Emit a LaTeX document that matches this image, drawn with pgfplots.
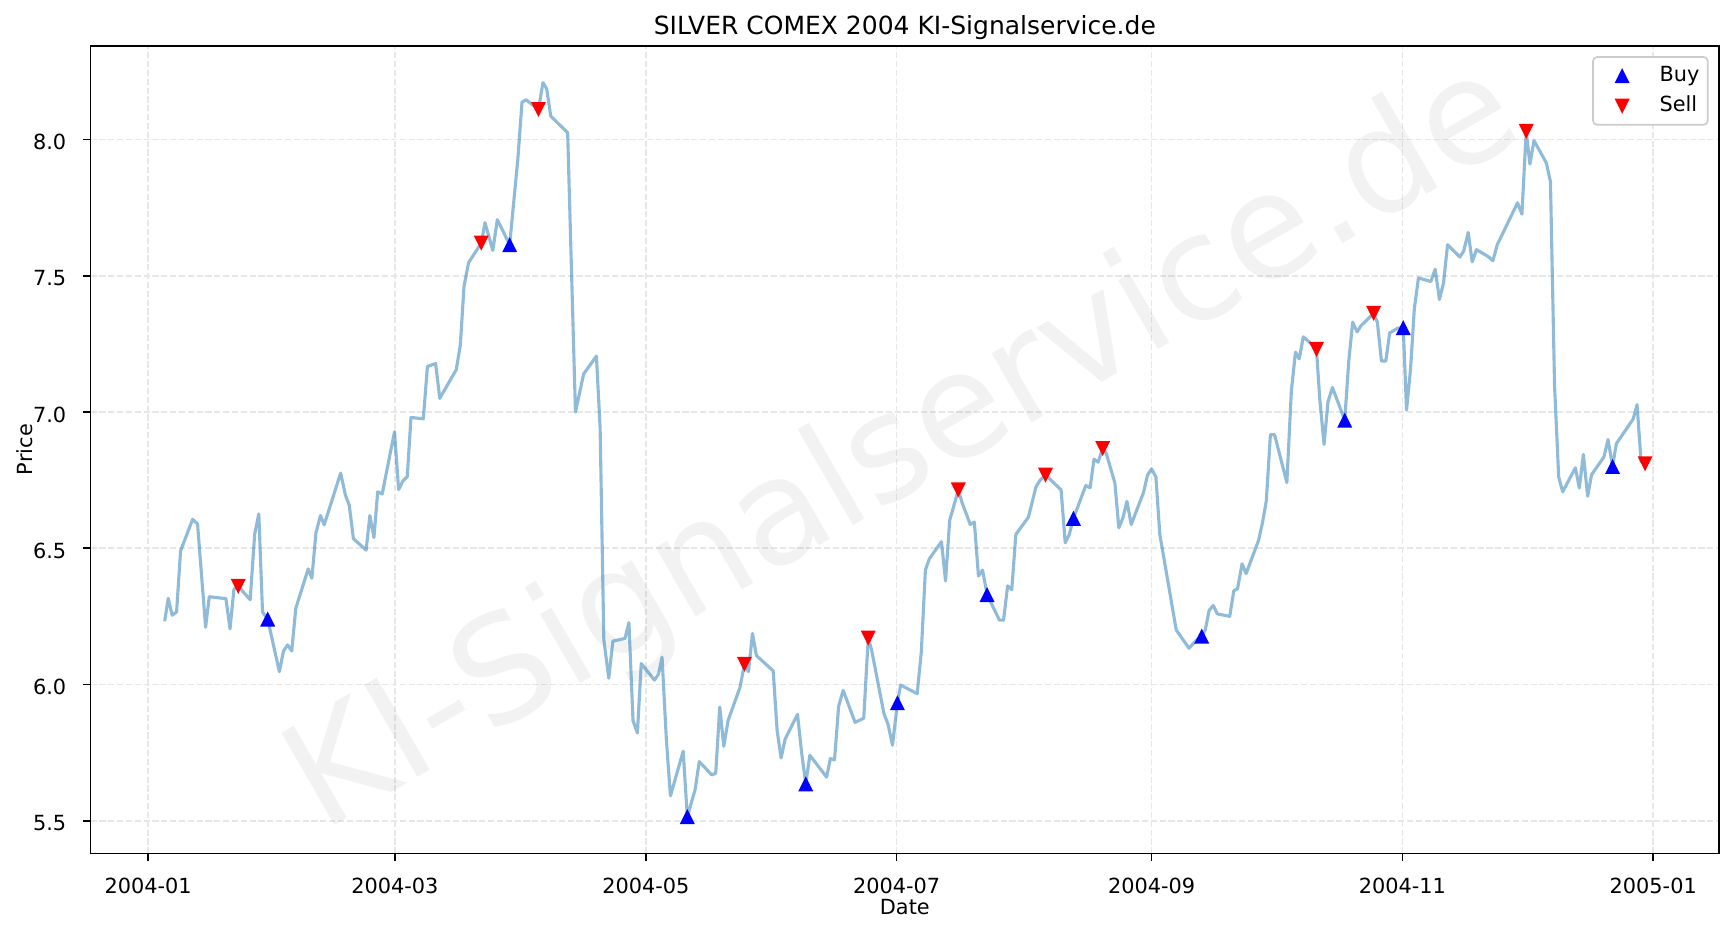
\documentclass[border=0pt]{standalone}
\usepackage{fontspec}
\setmainfont{DejaVu Sans}
\usepackage{pgfplots}
\usepackage{pgfplotstable}
\pgfplotsset{compat=1.18}
\definecolor{lineblue}{RGB}{31,119,180}
\definecolor{gridgray}{RGB}{231,231,231}
\definecolor{legedge}{RGB}{204,204,204}
\pgfdeclareplotmark{tup}{%
  \pgfpathmoveto{\pgfqpoint{0pt}{\pgfplotmarksize}}%
  \pgfpathlineto{\pgfqpoint{-\pgfplotmarksize}{-\pgfplotmarksize}}%
  \pgfpathlineto{\pgfqpoint{\pgfplotmarksize}{-\pgfplotmarksize}}%
  \pgfpathclose\pgfusepathqfill}
\pgfdeclareplotmark{tdown}{%
  \pgfpathmoveto{\pgfqpoint{0pt}{-\pgfplotmarksize}}%
  \pgfpathlineto{\pgfqpoint{-\pgfplotmarksize}{\pgfplotmarksize}}%
  \pgfpathlineto{\pgfqpoint{\pgfplotmarksize}{\pgfplotmarksize}}%
  \pgfpathclose\pgfusepathqfill}
\pgfplotstableread{
day price
4.0 6.232
4.87 6.316
5.84 6.254
6.9 6.266
7.87 6.49
10.8 6.606
12.0 6.589
13.96 6.21
14.85 6.322
18.9 6.315
19.9 6.204
20.85 6.35
21.9 6.36
24.8 6.311
25.9 6.552
26.9 6.626
27.8 6.266
29.05 6.24
31.9 6.047
32.9 6.123
33.9 6.145
34.9 6.123
35.9 6.28
38.9 6.424
39.8 6.39
40.8 6.557
41.9 6.62
42.8 6.586
46.8 6.776
47.96 6.695
48.9 6.657
49.9 6.535
53.0 6.493
53.9 6.62
54.9 6.539
55.8 6.707
56.9 6.699
59.9 6.928
60.9 6.715
61.9 6.746
63.0 6.763
63.9 6.98
66.9 6.975
67.9 7.167
69.9 7.178
70.9 7.05
74.9 7.155
75.9 7.245
76.8 7.461
77.9 7.548
81.0 7.62
81.9 7.695
83.8 7.593
84.9 7.706
87.9 7.614
89.9 7.93
90.9 8.137
91.9 8.146
94.9 8.11
96.0 8.209
96.9 8.186
97.9 8.086
102.0 8.025
103.9 7.0
105.9 7.14
109.0 7.205
109.9 6.94
110.8 6.164
112.0 6.023
113.0 6.159
115.95 6.169
116.9 6.227
117.9 5.867
118.96 5.822
119.9 6.077
123.1 6.016
124.1 6.038
124.96 6.1
126.0 5.80
126.99 5.591
130.1 5.755
131.1 5.515
133.0 5.614
134.0 5.717
137.05 5.668
138.0 5.674
139.0 5.917
139.97 5.773
141.0 5.867
143.9 5.989
145.0 6.074
145.98 6.047
146.95 6.187
147.9 6.106
151.98 6.05
152.95 5.83
153.9 5.73
154.9 5.80
157.9 5.89
158.9 5.75
159.9 5.635
160.9 5.74
164.97 5.66
165.9 5.728
166.9 5.723
167.9 5.92
169.0 5.978
171.9 5.861
174.0 5.876
175.1 6.17
175.9 6.128
178.9 5.894
179.9 5.854
181.0 5.777
182.2 5.933
182.98 5.998
187.0 5.966
188.0 6.119
189.0 6.42
189.95 6.461
192.9 6.524
193.9 6.38
194.9 6.602
197.0 6.714
197.9 6.668
199.9 6.587
200.9 6.596
201.9 6.398
202.9 6.42
204.0 6.33
207.0 6.236
208.0 6.236
209.0 6.362
210.0 6.348
211.0 6.551
214.05 6.614
215.9 6.726
216.9 6.75
218.2 6.768
219.2 6.755
222.0 6.714
223.0 6.52
224.0 6.551
225.0 6.61
228.0 6.73
229.06 6.722
230.0 6.827
231.0 6.816
232.1 6.866
232.96 6.849
235.07 6.74
236.04 6.575
237.0 6.61
238.0 6.672
239.05 6.587
242.05 6.705
243.0 6.768
244.0 6.791
245.05 6.762
246.0 6.551
250.0 6.2
253.1 6.133
255.0 6.164
256.2 6.177
257.06 6.2
258.0 6.272
259.0 6.29
260.0 6.259
263.0 6.25
264.0 6.344
264.9 6.351
266.0 6.443
267.0 6.407
270.0 6.528
271.0 6.596
271.9 6.674
272.9 6.917
273.9 6.917
276.9 6.741
278.0 7.079
279.0 7.22
279.9 7.195
280.9 7.276
282.9 7.249
284.1 7.23
284.9 7.047
285.95 6.881
286.9 7.038
287.98 7.09
290.97 6.97
291.95 7.186
292.9 7.33
293.98 7.294
294.95 7.317
298.0 7.362
298.9 7.33
299.9 7.187
300.96 7.187
301.9 7.29
303.9 7.308
305.2 7.31
306.0 7.007
306.96 7.155
307.9 7.38
308.9 7.492
311.9 7.479
312.97 7.524
314.0 7.413
315.0 7.474
315.97 7.614
318.97 7.569
319.9 7.591
321.0 7.659
321.97 7.551
323.0 7.596
326.0 7.569
327.0 7.555
328.06 7.614
333.0 7.768
334.06 7.726
335.1 8.03
336.0 7.91
337.0 7.996
340.0 7.914
341.0 7.845
342.0 7.094
343.0 6.762
343.97 6.707
347.05 6.795
348.02 6.721
349.0 6.844
350.05 6.691
351.0 6.77
354.0 6.835
355.0 6.899
356.1 6.80
357.03 6.884
361.1 6.974
362.06 7.027
363.03 6.819
364.0 6.81
}\pricetable
\pgfplotstableread{
day price
29.05 6.24
87.9 7.614
131.1 5.515
159.9 5.635
182.2 5.933
204.0 6.33
225.0 6.61
256.2 6.177
290.97 6.97
305.2 7.31
356.1 6.80
}\buytable
\pgfplotstableread{
day price
21.9 6.36
81.0 7.62
94.9 8.11
145.0 6.074
175.1 6.17
197.0 6.714
218.2 6.768
232.1 6.866
284.1 7.23
298.0 7.362
335.1 8.03
364.0 6.81
}\selltable
\begin{document}
\begin{tikzpicture}
\useasboundingbox (-43.5pt,-37.8pt) rectangle (788.3pt,409.6pt);
\begin{axis}[
  at={(0pt,0pt)}, anchor=south west,
  scale only axis, width=781.6pt, height=387.6pt,
  xmin=-14, xmax=382, ymin=5.380, ymax=8.344,
  axis line style={line width=0.8pt, black},
  tick pos=left, tick align=outside, major tick length=3.5pt,
  every tick/.style={black, line width=0.8pt},
  xtick={0,60,121,182,244,305,366},
  xticklabels={2004-01,2004-03,2004-05,2004-07,2004-09,2004-11,2005-01},
  ytick={5.5,6,6.5,7,7.5,8},
  yticklabels={5.5,6.0,6.5,7.0,7.5,8.0},
  grid=major,
  major grid style={gridgray, line width=0.8pt, dash pattern=on 2.96pt off 1.28pt},
  xticklabel style={font=\fontsize{10}{12}\selectfont, anchor=north, inner sep=0pt, yshift=-8.35pt},
  yticklabel style={font=\fontsize{10}{12}\selectfont, anchor=east, inner sep=0pt, xshift=-8pt, yshift=-1.25pt},
  title={SILVER COMEX 2004 KI-Signalservice.de},
  title style={at={(axis description cs:0.5,1.0141)}, anchor=base, yshift=-6pt, inner sep=0pt, font=\fontsize{12}{14}\selectfont},
  xlabel={Date},
  xlabel style={at={(axis description cs:0.5,-0.0751)}, anchor=base, inner sep=0pt, font=\fontsize{10}{12}\selectfont},
  ylabel={Price},
  ylabel style={at={(axis description cs:-0.0356,0.5)}, anchor=base, inner sep=0pt, font=\fontsize{10}{12}\selectfont},
  legend style={at={(rel axis cs:1,1)}, anchor=north east, xshift=-5pt, yshift=-5pt,
    draw=legedge, line width=0.8pt, fill=white, rounded corners=2pt, inner sep=4pt,
    row sep=4.9pt, column sep=8pt, font=\fontsize{10}{12}\selectfont,
    nodes={inner sep=0pt, text height=7.5pt, text depth=2.3pt}},
  legend cell align=left,
  legend image code/.code={\path[draw=none, fill=none] (0pt,-3.6pt) rectangle (20pt,3.6pt);
    \draw[#1,sharp corners,mark repeat=2,mark phase=2] plot coordinates {(0pt,0pt)(10pt,0pt)(20pt,0pt)};},
]
\node[rotate=30, text=gray, text opacity=0.1, font=\fontsize{70}{84}\selectfont, inner sep=0pt]
  at (rel axis cs:0.5,0.5) {KI-Signalservice.de};
\addplot[only marks, mark=tup, mark size=3.6pt, color=blue, mark options={fill=blue, sharp corners}] table[x=day, y=price] {\buytable};
\addlegendentry{Buy}
\addplot[only marks, mark=tdown, mark size=3.6pt, color=red, mark options={fill=red, sharp corners}] table[x=day, y=price] {\selltable};
\addlegendentry{Sell}
\addplot[forget plot, no markers, line width=1.5pt, color=lineblue, draw opacity=0.5, line join=round] table[x=day, y=price] {\pricetable};
\end{axis}
\end{tikzpicture}
\end{document}
